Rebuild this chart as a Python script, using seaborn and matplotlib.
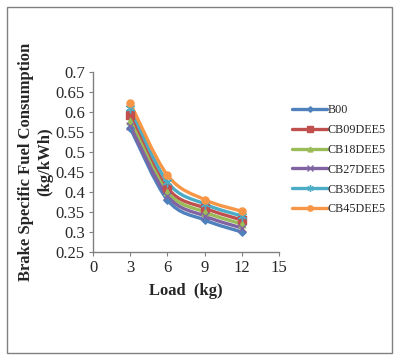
import numpy as np
import pandas as pd
import matplotlib
matplotlib.use("Agg")
import matplotlib.pyplot as plt
from matplotlib.path import Path
from matplotlib.patches import PathPatch, Rectangle
import seaborn as sns

load = [3, 6, 9, 12]
series = ["B00", "CB09DEE5", "CB18DEE5", "CB27DEE5", "CB36DEE5", "CB45DEE5"]
b00 = [0.560, 0.380, 0.330, 0.300]
cb09 = [0.593, 0.410, 0.360, 0.330]
cb18 = [0.578, 0.400, 0.350, 0.320]
cb27 = [0.565, 0.390, 0.340, 0.310]
cb36 = [0.610, 0.425, 0.370, 0.340]
cb45 = [0.622, 0.442, 0.381, 0.352]

colors = ["#4F81BD", "#C0504D", "#9BBB59", "#8064A2", "#4BACC6", "#F79646"]
markers = ["D", "s", "^", "x", (6, 2, 0), "o"]
msizes = [14, 28, 22, 30, 40, 26]

sns.set_style("white")
plt.rcParams["font.family"] = ["Liberation Serif", "DejaVu Serif"]

df = pd.DataFrame({"load": load * 6,
                   "bsfc": b00 + cb09 + cb18 + cb27 + cb36 + cb45,
                   "fuel": [s for s in series for _ in load]})

fig = plt.figure(figsize=(3.98, 3.61), dpi=100)
fig.patches.append(Rectangle((0.018, 0.022), 0.967, 0.958, transform=fig.transFigure,
                             fill=False, edgecolor="#808080", linewidth=1.0))
ax = fig.add_axes([0.234, 0.302, 0.467, 0.498])


def smooth_path(xs, ys):
    # Excel-like smoothed line: Catmull-Rom converted to cubic Bezier
    pts = np.column_stack([xs, ys]).astype(float)
    verts = [pts[0]]
    codes = [Path.MOVETO]
    n = len(pts)
    for i in range(n - 1):
        p0 = pts[i - 1] if i > 0 else pts[i]
        p1, p2 = pts[i], pts[i + 1]
        p3 = pts[i + 2] if i + 2 < n else pts[i + 1]
        c1 = p1 + (p2 - p0) / 6
        c2 = p2 - (p3 - p1) / 6
        verts += [c1, c2, p2]
        codes += [Path.CURVE4] * 3
    return Path(verts, codes)


for name, col, m, ms in zip(series, colors, markers, msizes):
    sub = df[df.fuel == name]
    ax.add_patch(PathPatch(smooth_path(sub.load, sub.bsfc), fill=False,
                           edgecolor=col, linewidth=2.4, zorder=2))
    sns.scatterplot(data=sub, x="load", y="bsfc", color=col, marker=m, s=ms,
                    ax=ax, legend=False, zorder=3, linewidth=1.0,
                    edgecolor=col if m not in ("x", (6, 2, 0)) else None)

ax.set_xlim(0, 15)
ax.set_ylim(0.25, 0.7)
ax.set_xticks([0, 3, 6, 9, 12, 15])
ax.set_yticks([0.25, 0.3, 0.35, 0.4, 0.45, 0.5, 0.55, 0.6, 0.65, 0.7])
ax.set_yticklabels(["0.25", "0.3", "0.35", "0.4", "0.45", "0.5", "0.55", "0.6", "0.65", "0.7"])
ax.tick_params(axis="both", labelsize=12, length=3, direction="out",
               color="#808080", left=True, bottom=True, pad=3)
for s in ["top", "right"]:
    ax.spines[s].set_visible(False)
for s in ["left", "bottom"]:
    ax.spines[s].set_color("#808080")
    ax.spines[s].set_linewidth(1.0)

ax.set_xlabel("Load  (kg)", fontsize=12, fontweight="bold", labelpad=5)
ax.set_ylabel("Brake Specific Fuel Consumption\n(kg/kWh)", fontsize=12,
              fontweight="bold", labelpad=2, linespacing=1.2)

handles = [plt.Line2D([], [], color=c, marker=m, markersize=np.sqrt(ms) * 0.75, linewidth=2.4)
           for c, m, ms in zip(colors, markers, msizes)]
fig.legend(handles, series, loc="upper left", bbox_to_anchor=(0.722, 0.725),
           frameon=False, fontsize=8.7, handlelength=2.9, handletextpad=0.05,
           labelspacing=0.65, borderaxespad=0)

fig.savefig("out.png", dpi=100)
